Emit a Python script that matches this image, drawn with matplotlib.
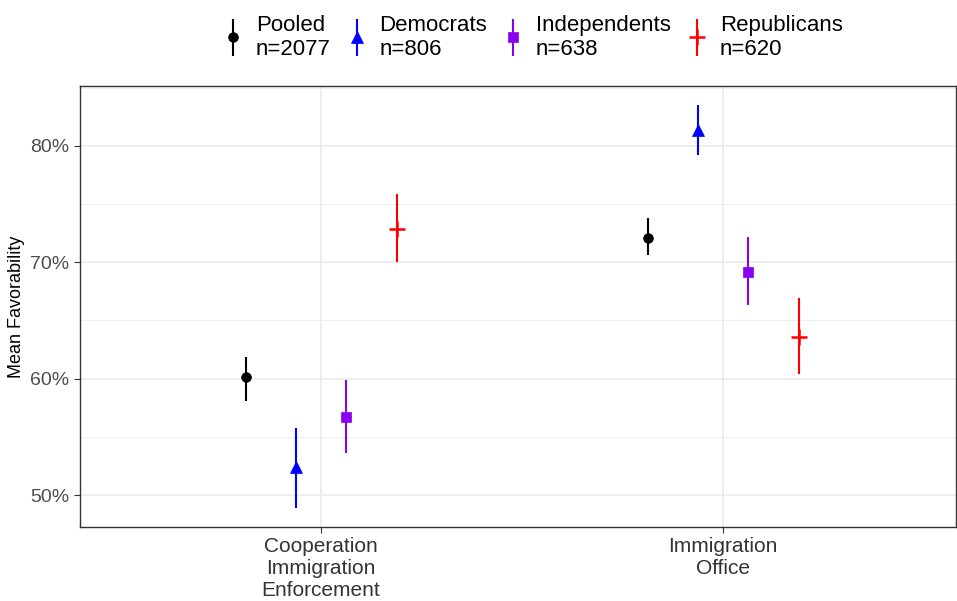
import numpy as np
import matplotlib
matplotlib.use('Agg')
import matplotlib.pyplot as plt
from matplotlib.ticker import FixedLocator, FuncFormatter
from matplotlib.container import ErrorbarContainer
from matplotlib.legend_handler import HandlerErrorbar

plt.rcParams['font.family'] = ['Liberation Sans', 'DejaVu Sans']

# data
outcomes = ['Cooperation\nImmigration\nEnforcement', 'Immigration\nOffice']
groups = ['Pooled', 'Democrats', 'Independents', 'Republicans']
group_n = [2077, 806, 638, 620]
means = {
    'Pooled':       [60.1, 72.1],
    'Democrats':    [52.4, 81.4],
    'Independents': [56.7, 69.2],
    'Republicans':  [72.9, 63.6],
}
lower = {
    'Pooled':       [58.1, 70.6],
    'Democrats':    [48.9, 79.2],
    'Independents': [53.6, 66.3],
    'Republicans':  [70.0, 60.4],
}
upper = {
    'Pooled':       [61.9, 73.8],
    'Democrats':    [55.8, 83.5],
    'Independents': [59.9, 72.2],
    'Republicans':  [75.9, 66.9],
}

colors = ['black', '#0000FF', '#8A00F0', '#FF0000']
markers = ['o', '^', 's', '+']
msizes = [7, 8.5, 6.5, 12]
offsets = [-0.1875, -0.0625, 0.0625, 0.19]

fig = plt.figure(figsize=(9.57, 6.01), dpi=100)
ax = fig.add_axes([80 / 957, 1 - 527 / 601, 876 / 957, (527 - 86) / 601])

x = np.arange(1, len(outcomes) + 1)
handles = []
for g, c, m, ms, off in zip(groups, colors, markers, msizes, offsets):
    mu = np.array(means[g])
    lo = np.array(lower[g])
    hi = np.array(upper[g])
    h = ax.errorbar(x + off, mu, yerr=[mu - lo, hi - mu], fmt=m, color=c,
                    ecolor=c, elinewidth=1.5, capsize=0, markersize=ms,
                    markeredgewidth=1.8 if m == '+' else 0.5, zorder=3)
    handles.append(h)

ax.set_xlim(0.4, 2.58)
ax.set_ylim(47.25, 85.15)
ax.set_xticks(x)
ax.set_xticklabels(outcomes, fontsize=15, color='#333333', linespacing=1.17)
ax.yaxis.set_major_locator(FixedLocator([50, 60, 70, 80]))
ax.yaxis.set_minor_locator(FixedLocator([55, 65, 75, 85]))
ax.yaxis.set_major_formatter(FuncFormatter(lambda v, p: '%d%%' % v))
ax.tick_params(axis='y', labelsize=14, labelcolor='#4D4D4D', color='#333333', length=4)
ax.tick_params(axis='x', color='#333333', length=4)
ax.tick_params(axis='y', which='minor', length=0)
ax.set_ylabel('Mean Favorability', fontsize=13, labelpad=4)

ax.grid(True, which='major', color='#EBEBEB', linewidth=1.2, zorder=0)
ax.grid(True, which='minor', axis='y', color='#EBEBEB', linewidth=0.6, zorder=0)
ax.set_axisbelow(True)
for s in ax.spines.values():
    s.set_color('#333333')
    s.set_linewidth(1.0)

labels = ['%s\nn=%d' % (g, n) for g, n in zip(groups, group_n)]
fig.legend(handles, labels, loc='center', bbox_to_anchor=(0.557, 0.938), ncol=4,
           frameon=False, fontsize=16, handlelength=0.85, handletextpad=0.6,
           columnspacing=0.75, labelspacing=0.2,
           handler_map={ErrorbarContainer: HandlerErrorbar(yerr_size=0.82)})

fig.savefig('out.png', dpi=100)
